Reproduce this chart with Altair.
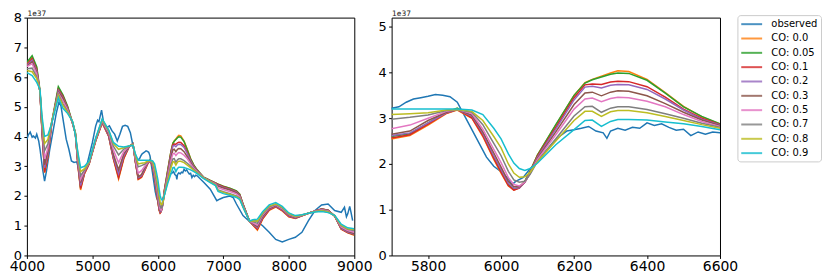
import altair as alt
import pandas as pd

# ---------------- data (flux in units of 1e37) ----------------
obs_wl = [4000, 4020, 4050, 4080, 4100, 4130, 4150, 4180, 4200, 4240, 4270, 4300, 4350, 4400,
          4450, 4490, 4520, 4560, 4600, 4640, 4680, 4720, 4760, 4800, 4830, 4860, 4900, 4950,
          5000, 5050, 5080, 5100, 5140, 5180, 5220, 5260, 5300, 5340, 5380, 5420, 5460, 5500,
          5540, 5580, 5620, 5660, 5700, 5720, 5740, 5760, 5780, 5800, 5820, 5840, 5860, 5880,
          5890, 5900, 5920, 5940, 5960, 5980, 6000, 6020, 6030, 6040, 6060, 6080, 6100, 6120,
          6140, 6160, 6180, 6200, 6220, 6240, 6260, 6280, 6290, 6300, 6320, 6340, 6360, 6380,
          6400, 6420, 6440, 6460, 6480, 6500, 6520, 6540, 6560, 6580, 6600, 6700, 6800, 6900,
          6950, 7000, 7100, 7150, 7200, 7300, 7400, 7500, 7600, 7700, 7800, 7900, 8000, 8100,
          8200, 8300, 8400, 8500, 8600, 8700, 8800, 8850, 8880, 8900, 8930, 8950, 8975]
obs_flux = [3.90, 4.05, 4.15, 3.98, 4.02, 3.95, 4.08, 3.85, 3.58, 2.90, 2.50, 2.85, 3.58, 4.19,
            4.80, 5.16, 5.03, 4.47, 3.91, 3.58, 3.18, 3.13, 3.15, 2.85, 2.46, 2.79, 2.90, 3.35,
            3.80, 4.35, 4.55, 4.50, 4.89, 4.36, 4.30, 4.36, 4.19, 4.08, 3.85, 4.08, 4.34, 4.38,
            4.34, 4.13, 3.69, 3.30, 3.22, 3.25, 3.35, 3.42, 3.45, 3.48, 3.52, 3.50, 3.47, 3.35,
            3.20, 3.05, 2.75, 2.45, 2.15, 1.95, 1.83, 1.68, 1.55, 1.62, 1.70, 1.90, 2.05, 2.25,
            2.45, 2.60, 2.72, 2.75, 2.78, 2.82, 2.72, 2.68, 2.56, 2.72, 2.78, 2.74, 2.80, 2.78,
            2.90, 2.84, 2.88, 2.80, 2.74, 2.76, 2.62, 2.70, 2.65, 2.70, 2.68, 2.46, 2.23, 1.84,
            1.90, 1.95, 2.00, 1.95, 1.73, 1.34, 1.14, 1.17, 1.00, 0.78, 0.54, 0.45, 0.54, 0.61,
            0.78, 1.17, 1.51, 1.70, 1.73, 1.51, 1.45, 1.62, 1.30, 1.40, 1.65, 1.45, 1.17]

model_wl = [4000, 4080, 4150, 4200, 4230, 4270, 4320, 4380, 4480, 4550, 4620, 4700, 4740,
            4780, 4820, 4880, 4950, 5050, 5150, 5250, 5320, 5400, 5480, 5560, 5620, 5660,
            5700, 5750, 5800, 5850, 5880, 5920, 5950, 5980, 6000, 6020, 6035, 6050, 6065, 6080,
            6100, 6150, 6200, 6230, 6250, 6275, 6300, 6320, 6350, 6400, 6450, 6500, 6550, 6600,
            6700, 6800, 6880, 6920, 7000, 7100, 7200, 7250, 7300, 7400, 7450, 7520, 7600, 7700,
            7800, 7900, 8000, 8100, 8200, 8300, 8400, 8500, 8600, 8700, 8800, 8900, 9000]

co_00 = [6.45, 6.65, 6.30, 5.50, 4.20, 2.78, 3.30, 4.45, 5.62, 5.35, 5.00, 4.42, 4.10, 3.00, 2.20, 2.75, 3.08, 3.85, 4.45, 4.00, 3.25, 2.57, 3.25, 3.65, 3.75, 3.10,
         2.55, 2.62, 2.85, 3.10, 3.18, 3.00, 2.60, 2.10, 1.80, 1.52, 1.43, 1.48, 1.62, 1.85, 2.20, 2.85, 3.50, 3.78, 3.85, 3.92, 3.99, 4.04, 4.02, 3.85, 3.56, 3.26, 3.03, 2.87,
         2.62, 2.52, 2.44, 2.40, 2.32, 2.25, 2.16, 2.05, 1.72, 1.15, 1.02, 0.85, 1.22, 1.52, 1.63, 1.50, 1.30, 1.24, 1.33, 1.42, 1.50, 1.56, 1.52, 1.32, 0.88, 0.76, 0.68]
co_005 = [6.50, 6.72, 6.35, 5.55, 4.25, 2.85, 3.35, 4.50, 5.68, 5.40, 5.03, 4.45, 4.15, 3.05, 2.28, 2.80, 3.10, 3.87, 4.50, 4.03, 3.30, 2.65, 3.30, 3.66, 3.76, 3.12,
          2.60, 2.66, 2.90, 3.13, 3.22, 3.04, 2.65, 2.15, 1.84, 1.55, 1.45, 1.48, 1.62, 1.85, 2.20, 2.86, 3.50, 3.77, 3.84, 3.90, 3.96, 3.99, 3.98, 3.83, 3.55, 3.25, 3.04, 2.88,
          2.63, 2.52, 2.44, 2.40, 2.33, 2.26, 2.17, 2.06, 1.74, 1.16, 1.04, 0.90, 1.26, 1.55, 1.66, 1.53, 1.33, 1.26, 1.34, 1.42, 1.50, 1.56, 1.52, 1.33, 0.90, 0.78, 0.70]
co_01 = [6.42, 6.62, 6.25, 5.50, 4.20, 2.80, 3.32, 4.45, 5.58, 5.35, 4.98, 4.42, 4.10, 3.00, 2.25, 2.76, 3.08, 3.85, 4.47, 4.00, 3.27, 2.62, 3.28, 3.65, 3.75, 3.10,
         2.57, 2.64, 2.87, 3.11, 3.19, 3.01, 2.62, 2.12, 1.82, 1.53, 1.43, 1.47, 1.60, 1.83, 2.18, 2.80, 3.45, 3.73, 3.75, 3.74, 3.79, 3.81, 3.80, 3.69, 3.46, 3.20, 3.00, 2.86,
         2.62, 2.51, 2.43, 2.38, 2.31, 2.24, 2.15, 2.04, 1.72, 1.15, 1.03, 0.88, 1.24, 1.53, 1.64, 1.51, 1.31, 1.25, 1.33, 1.42, 1.50, 1.56, 1.52, 1.33, 0.89, 0.77, 0.70]
co_02 = [6.40, 6.57, 6.20, 5.50, 4.25, 2.95, 3.42, 4.47, 5.55, 5.30, 4.95, 4.42, 4.10, 3.05, 2.35, 2.80, 3.10, 3.87, 4.48, 4.03, 3.32, 2.75, 3.35, 3.66, 3.75, 3.12,
         2.62, 2.68, 2.90, 3.12, 3.19, 3.05, 2.67, 2.18, 1.88, 1.58, 1.47, 1.48, 1.60, 1.82, 2.15, 2.76, 3.40, 3.68, 3.70, 3.66, 3.72, 3.74, 3.73, 3.63, 3.42, 3.18, 2.98, 2.85,
         2.62, 2.51, 2.42, 2.36, 2.29, 2.22, 2.13, 2.02, 1.70, 1.15, 1.05, 0.93, 1.28, 1.56, 1.66, 1.53, 1.33, 1.26, 1.34, 1.42, 1.50, 1.55, 1.51, 1.33, 0.91, 0.79, 0.72]
co_03 = [6.37, 6.52, 6.15, 5.50, 4.30, 3.05, 3.50, 4.48, 5.50, 5.28, 4.92, 4.43, 4.10, 3.10, 2.45, 2.82, 3.10, 3.88, 4.50, 4.06, 3.40, 2.88, 3.42, 3.67, 3.75, 3.15,
         2.65, 2.72, 2.95, 3.13, 3.19, 3.07, 2.70, 2.24, 1.93, 1.62, 1.50, 1.50, 1.60, 1.80, 2.12, 2.70, 3.30, 3.55, 3.57, 3.49, 3.57, 3.60, 3.59, 3.49, 3.32, 3.13, 2.96, 2.84,
         2.61, 2.50, 2.41, 2.33, 2.27, 2.20, 2.11, 2.01, 1.70, 1.15, 1.07, 0.97, 1.32, 1.58, 1.68, 1.55, 1.35, 1.27, 1.34, 1.42, 1.49, 1.55, 1.51, 1.33, 0.93, 0.81, 0.74]
co_05 = [6.35, 6.45, 6.10, 5.50, 4.40, 3.25, 3.60, 4.50, 5.46, 5.20, 4.90, 4.45, 4.10, 3.20, 2.56, 2.85, 3.12, 3.90, 4.52, 4.12, 3.55, 3.12, 3.50, 3.68, 3.74, 3.20,
         2.77, 2.85, 3.00, 3.15, 3.19, 3.10, 2.76, 2.32, 2.03, 1.70, 1.55, 1.52, 1.60, 1.80, 2.10, 2.64, 3.20, 3.42, 3.44, 3.36, 3.43, 3.46, 3.45, 3.37, 3.25, 3.08, 2.93, 2.82,
         2.61, 2.49, 2.40, 2.28, 2.22, 2.15, 2.07, 1.98, 1.68, 1.15, 1.10, 1.02, 1.36, 1.61, 1.70, 1.57, 1.37, 1.29, 1.35, 1.42, 1.49, 1.54, 1.50, 1.33, 0.96, 0.84, 0.78]
co_07 = [6.28, 6.30, 6.00, 5.52, 4.50, 3.52, 3.75, 4.50, 5.42, 5.10, 4.85, 4.47, 4.10, 3.30, 2.68, 2.88, 3.13, 3.92, 4.55, 4.17, 3.68, 3.38, 3.58, 3.68, 3.73, 3.30,
         2.98, 3.02, 3.07, 3.17, 3.19, 3.13, 2.86, 2.45, 2.18, 1.84, 1.65, 1.60, 1.62, 1.78, 2.06, 2.55, 3.05, 3.25, 3.26, 3.13, 3.22, 3.25, 3.25, 3.19, 3.10, 3.00, 2.89, 2.80,
         2.60, 2.48, 2.38, 2.20, 2.14, 2.08, 2.00, 1.93, 1.65, 1.15, 1.14, 1.08, 1.40, 1.64, 1.72, 1.60, 1.39, 1.31, 1.36, 1.42, 1.48, 1.52, 1.48, 1.33, 1.00, 0.88, 0.83]
co_08 = [6.22, 6.18, 5.95, 5.55, 4.60, 3.76, 3.90, 4.50, 5.38, 5.05, 4.82, 4.48, 4.10, 3.38, 2.82, 2.92, 3.15, 3.93, 4.57, 4.20, 3.76, 3.57, 3.62, 3.68, 3.72, 3.35,
         3.08, 3.10, 3.12, 3.18, 3.19, 3.15, 2.95, 2.60, 2.35, 2.00, 1.80, 1.71, 1.72, 1.82, 2.05, 2.50, 2.95, 3.15, 3.15, 3.04, 3.14, 3.17, 3.17, 3.12, 3.04, 2.95, 2.86, 2.78,
         2.60, 2.47, 2.37, 2.18, 2.12, 2.05, 1.98, 1.91, 1.63, 1.15, 1.17, 1.15, 1.43, 1.66, 1.74, 1.62, 1.41, 1.32, 1.36, 1.42, 1.47, 1.50, 1.46, 1.34, 1.02, 0.90, 0.87]
co_09 = [6.15, 6.05, 5.82, 5.58, 4.70, 4.00, 4.05, 4.45, 5.30, 4.95, 4.78, 4.50, 4.05, 3.45, 2.95, 3.00, 3.18, 3.95, 4.60, 4.22, 3.80, 3.67, 3.65, 3.68, 3.70, 3.40,
         3.20, 3.20, 3.20, 3.20, 3.20, 3.18, 3.08, 2.78, 2.55, 2.22, 2.02, 1.90, 1.86, 1.90, 2.02, 2.42, 2.75, 2.95, 2.96, 2.82, 2.93, 2.97, 2.97, 2.96, 2.92, 2.88, 2.82, 2.75,
         2.58, 2.45, 2.35, 2.15, 2.08, 2.02, 1.95, 1.88, 1.62, 1.16, 1.20, 1.22, 1.47, 1.70, 1.78, 1.65, 1.43, 1.34, 1.37, 1.42, 1.46, 1.48, 1.44, 1.35, 1.05, 0.93, 0.90]

series_names = ["observed", "CO: 0.0", "CO: 0.05", "CO: 0.1", "CO: 0.2", "CO: 0.3",
                "CO: 0.5", "CO: 0.7", "CO: 0.8", "CO: 0.9"]
series_colors = ["#1f77b4", "#ff7f0e", "#2ca02c", "#d62728", "#9467bd", "#8c564b",
                 "#e377c2", "#7f7f7f", "#bcbd22", "#17becf"]
models = [co_00, co_005, co_01, co_02, co_03, co_05, co_07, co_08, co_09]

left_ticks = [4000, 5000, 6000, 7000, 8000, 9000]
right_ticks = [5800, 6000, 6200, 6400, 6600]

# ---------------- build table ----------------
rows = []
for w, v in zip(obs_wl, obs_flux):
    rows.append({"series": "observed", "order": 0, "wl": w, "flux": v})
for i, vals in enumerate(models):
    for w, v in zip(model_wl, vals):
        rows.append({"series": series_names[i + 1], "order": i + 1, "wl": w, "flux": v})
df = pd.DataFrame(rows)

color_scale = alt.Scale(domain=series_names, range=series_colors)

def y_axis(vals):
    return alt.Axis(values=vals, title="1e37", titleAngle=0, titleAlign="left",
                    titleBaseline="alphabetic", titleX=0, titleY=-2, titleFontSize=7.5,
                    titleFontWeight="normal", titleColor="#222222", format="d",
                    labelFontSize=13, labelPadding=2.5, tickSize=3, grid=False, domain=False)

def x_axis(vals):
    return alt.Axis(values=vals, title=None, labelFontSize=14, labelPadding=1, format="d",
                    tickSize=3, grid=False, domain=False, labelFlush=False, labelOverlap=False)

left = alt.Chart(df).mark_line(strokeWidth=1.5, clip=True).encode(
    x=alt.X("wl:Q", scale=alt.Scale(domain=[4000, 9000], nice=False, zero=False), axis=x_axis(left_ticks)),
    y=alt.Y("flux:Q", scale=alt.Scale(domain=[0, 8], nice=False, zero=False), axis=y_axis(list(range(0, 9)))),
    color=alt.Color("series:N", scale=color_scale, legend=None),
).properties(width=329, height=239)

right = alt.Chart(df).mark_line(strokeWidth=1.5, clip=True).encode(
    x=alt.X("wl:Q", scale=alt.Scale(domain=[5700, 6600], nice=False, zero=False), axis=x_axis(right_ticks)),
    y=alt.Y("flux:Q", scale=alt.Scale(domain=[0, 5.2], nice=False, zero=False), axis=y_axis([0, 1, 2, 3, 4, 5])),
    color=alt.Color("series:N", scale=color_scale,
                    legend=alt.Legend(title=None, orient="none", legendX=347.5, legendY=-2.5,
                                      symbolType="M-1,0H3", symbolSize=110, symbolStrokeWidth=2,
                                      symbolOpacity=0.8,
                                      labelFontSize=10, labelOffset=18.5, rowPadding=2.4,
                                      padding=2.6, strokeColor="#cccccc", fillColor="white",
                                      cornerRadius=3, labelColor="black")),
).properties(width=330, height=239)

chart = alt.hconcat(left, right, spacing=37.5, bounds="flush").resolve_scale(
    color="independent", x="independent", y="independent"
).resolve_legend(color="independent").configure(
    font="DejaVu Sans", padding=0
).configure_view(
    stroke="black", strokeWidth=1
).configure_axis(
    labelFont="DejaVu Sans", titleFont="DejaVu Sans", labelColor="black",
    tickColor="black", tickWidth=1
).configure_legend(labelFont="DejaVu Sans")

chart.save("out.html", embed_options={"renderer": "svg", "actions": False})
